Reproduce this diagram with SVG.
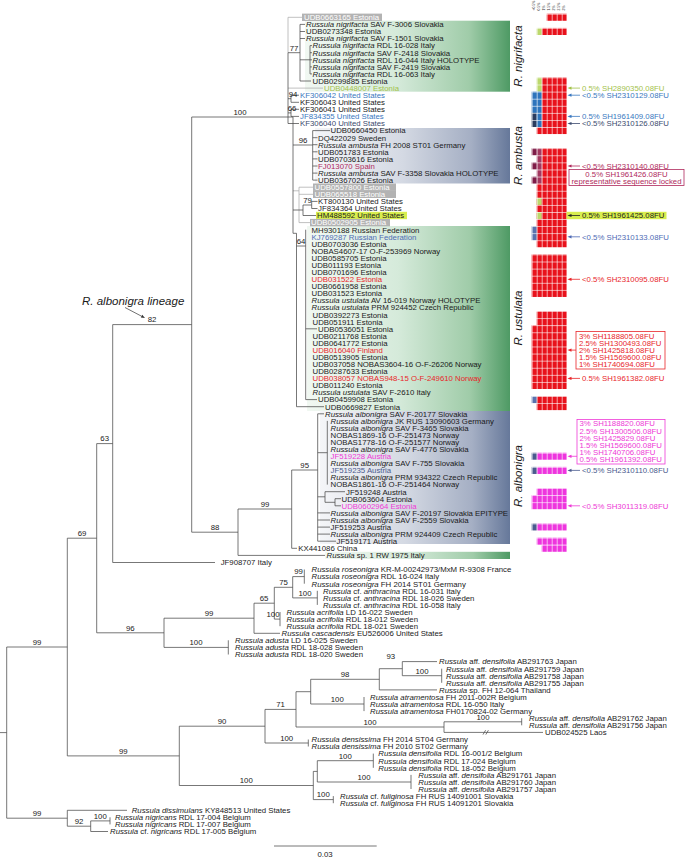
<svg xmlns="http://www.w3.org/2000/svg" width="685" height="858" viewBox="0 0 685 858">
<defs>
<linearGradient id="gg" x1="0" y1="0" x2="1" y2="0"><stop offset="0" stop-color="#f1f8f2"/><stop offset="0.45" stop-color="#d5eada"/><stop offset="0.8" stop-color="#a0cca9"/><stop offset="1" stop-color="#4e9a64"/></linearGradient>
<linearGradient id="gs" x1="0" y1="0" x2="1" y2="0"><stop offset="0" stop-color="#f4f5f8"/><stop offset="0.45" stop-color="#d4d9e3"/><stop offset="0.8" stop-color="#a5afc4"/><stop offset="1" stop-color="#66789a"/></linearGradient>
<pattern id="grid" patternUnits="userSpaceOnUse" x="531.7" y="13.76" width="5" height="7.08"><path d="M0 0.35H5M0.35 0V7.08" stroke="#fff" stroke-width="0.7" fill="none"/></pattern>
</defs>
<style>
text{font-family:"Liberation Sans",Arial,Helvetica,sans-serif;font-size:7.8px;fill:#1a1a1a}
.i{font-style:italic}
.bs{text-anchor:middle}
.w{fill:#fff}
.ln{fill:none;stroke:#4a4a4a;stroke-width:0.75}
.lg{fill:none;stroke:#ababab;stroke-width:0.75}
.gb{fill:#b3b3b3}
.cl{font-size:11.5px;font-style:italic;text-anchor:middle}
.hd{font-size:3.4px;fill:#333}
.cR{fill:#e8121c}.cM{fill:#ee35de}.cLG{fill:#bcd86c}.cBL{fill:#2e74bc}.cNV{fill:#2c3c5e}.cMR{fill:#7e1d48}.cMR2{fill:#a3375f}.cSL{fill:#5a72ae}.cSL2{fill:#4b5b8e}
.tLG{fill:#a3c24a}.tBL{fill:#3a78c0}.tNV{fill:#3b4a6e}.tMR{fill:#b02a5c}.tSL{fill:#4f6bb5}.tR{fill:#e8262a}.tM{fill:#ee3ad6}.tSL2{fill:#4a5a8e}
</style>
<rect width="685" height="858" fill="#fff"/>

<!-- clade shading -->
<g id="shading">
<rect x="305" y="20.7" width="205" height="71" fill="url(#gg)"/>
<rect x="315" y="128" width="195" height="55.5" fill="url(#gs)"/>
<rect x="307" y="226" width="203" height="185" fill="url(#gg)"/>
<rect x="320" y="411" width="190" height="133" fill="url(#gs)"/>
<rect x="325" y="551.8" width="185" height="7.2" fill="url(#gg)"/>
</g>

<!-- connectors -->
<g id="connectors">
<path class="lg" d="M288 17.3V52.7M288 17.3H303M293 190.8H299M299 187.2V222.6M299 187.2H313M299 194.3H313M299 222.6H310M288 88.1H323"/>
<path class="ln" d="M191.7 117H293M288 52.7V123.5M288 52.7H300M300 24.4V81M300 24.4H305M300 31.5H305M300 38.5H305M300 59.8H310M310 45.6V73.9M310 45.6H312M310 52.7H312M310 59.8H312M310 66.9H312M310 73.9H312M300 81H311
M288 98.7H291M291 95.2V102.3M291 95.2H299M291 102.3H299M288 112.9H291M291 109.3V116.4M291 109.3H299M291 116.4H299M288 123.5H299
M293 117V233.3M293 145H312.7M312.7 130.6V180.1M312.7 130.6H330M312.7 137.7H317.5M312.7 144.7H317.5M312.7 151.8H317.5M312.7 158.9H317.5M312.7 166H317.5M312.7 173.1H317.5M312.7 180.1H317.5
M293 210H303M303 205V215.5M303 205H311.7M311.7 201.4V208.5M311.7 201.4H317.5M311.7 208.5H317.5M303 215.5H316
M293 233.3H296.5M296.5 233.3V406.7M296.5 246H305.7M305.7 229.7V399.6M296.5 406.7H324M305.7 328.8H317M305.7 399.6H317
M191.7 117V532.2M112.7 324.6H191.7M191.7 532.2H238M238 509V555.4M238 555.4H325M238 509H291.7M291.7 470V548.3M291.7 548.3H297M291.7 470H317.7M317.7 413.8V541.2M317.7 413.8H324M317.7 452.7H327.3M327.3 420.9V484.6M317.7 496.8H325M325 491.7V502.3M325 491.7H345M325 502.3H335M335 498.7V505.8M335 498.7H341M335 505.8H341M317.7 512.9H330M317.7 520H330M317.7 527.1H330M317.7 534.1H330M317.7 541.2H336
M112.7 324.6V562.5M112.7 562.5H215M96.7 443.6H112.7M96.7 443.6V632.8M67.3 538.2H96.7
M96.7 632.8H164M164 618.2V647.4M164 618.2H254M164 647.4H228.3M228.3 640.3V654.5
M254 603.2V633.3M254 603.2H274.3M254 633.3H280M274.3 587.3V619.1M274.3 587.3H292.7M274.3 619.1H280M280 612V626.2M292.7 576.6V597.9M292.7 576.6H304.3M304.3 569.5V583.7M292.7 597.9H317.3M317.3 590.8V604.9
M6.7 647H67.3M67.3 538.2V755.9M67.3 755.9H179.3M179.3 726.2V785.5
M179.3 726.2H265M265 709.4V743M265 743H308.3M308.3 739.5V746.5
M265 709.4H296M296 691.7V727M296 691.7H310.7M310.7 679.3V704M310.7 704H364M364 697V711.1M310.7 679.3H379.3M379.3 668.7V689.9M379.3 689.9H437M379.3 668.7H402.3M402.3 661.6V675.7M402.3 661.6H437M402.3 675.7H441.7M441.7 668.7V682.8
M296 727H444M444 721.8V732.4M444 721.8H521.7M521.7 718.2V725.3M444 732.4H543M483 734.6L485.6 730.2M485.8 734.6L488.4 730.2
M179.3 785.5H313.3M313.3 771.4V799.6M313.3 771.4H317.3M317.3 760.7V782M317.3 760.7H373.3M373.3 753.6V767.8M317.3 782H411M411 774.9V789M313.3 799.6H333.3M333.3 796.1V803.2
M6.7 647V818.2M0 732.6H6.7M6.7 818.2H67.3M67.3 810.3V826.2M67.3 810.3H127M67.3 826.2H90.7M90.7 820.9V831.5M90.7 820.9H110M110 817.3V824.4M90.7 831.5H108"/>
<path d="M125 307.5L141.5 316.2" fill="none" stroke="#333" stroke-width="0.7"/>
<polygon points="145,318 140.8,317.5 142.2,314.8" fill="#333"/>
<path d="M274 846H376.7" stroke="#777" stroke-width="1"/>
</g>

<!-- bootstrap values -->
<g id="support">
<text class="bs" x="240" y="114.8">100</text>
<text class="bs" x="294" y="50.5">77</text>
<text class="bs" x="293" y="96.5">94</text>
<text class="bs" x="292" y="111">66</text>
<text class="bs" x="303" y="143">96</text>
<text class="bs" x="307.5" y="203">79</text>
<text class="bs" x="301" y="244">64</text>
<text class="bs" x="152" y="322.4">82</text>
<text class="bs" x="104.7" y="441.4">63</text>
<text class="bs" x="82" y="536">69</text>
<text class="bs" x="304.7" y="467.8">95</text>
<text class="bs" x="265" y="506.8">99</text>
<text class="bs" x="215" y="530">88</text>
<text class="bs" x="37" y="644.8">99</text>
<text class="bs" x="130.3" y="630.6">96</text>
<text class="bs" x="209" y="616">99</text>
<text class="bs" x="196" y="645.2">100</text>
<text class="bs" x="264" y="601">65</text>
<text class="bs" x="283.5" y="585.1">75</text>
<text class="bs" x="298.5" y="574.4">99</text>
<text class="bs" x="305" y="595.7">100</text>
<text x="279.5" y="616.5" text-anchor="end">100</text>
<text class="bs" x="123.3" y="753.7">99</text>
<text class="bs" x="222" y="724">90</text>
<text class="bs" x="280.5" y="707.2">71</text>
<text class="bs" x="345" y="677.1">98</text>
<text class="bs" x="390.8" y="659.4">93</text>
<text class="bs" x="422" y="673.5">100</text>
<text class="bs" x="337.3" y="701.8">100</text>
<text class="bs" x="370" y="724.8">100</text>
<text class="bs" x="483" y="719.6">100</text>
<text class="bs" x="286.7" y="740.8">100</text>
<text class="bs" x="246.3" y="783.3">100</text>
<text class="bs" x="345.3" y="758.5">100</text>
<text class="bs" x="364" y="779.8">100</text>
<text class="bs" x="323.3" y="797.4">100</text>
<text class="bs" x="37" y="816">99</text>
<text class="bs" x="79" y="824">92</text>
<text class="bs" x="100.3" y="818.7">100</text>
<text x="82" y="304.5" style="font-size:11.5px;font-style:italic">R. albonigra lineage</text>
<text x="325" y="856.5" text-anchor="middle">0.03</text>
</g>

<!-- terminal labels -->
<g id="clade-nigrifacta">
<rect class="gb" x="302" y="13.6" width="80" height="7.4"/>
<text class="w" x="304" y="20.1">UDB0663165 Estonia</text>
<text x="306" y="27.2"><tspan class="i">Russula nigrifacta</tspan> SAV F-3006 Slovakia</text>
<text x="306" y="34.3">UDB0273348 Estonia</text>
<text x="306" y="41.3"><tspan class="i">Russula nigrifacta</tspan> SAV F-1501 Slovakia</text>
<text x="312.5" y="48.4"><tspan class="i">Russula nigrifacta</tspan> RDL 16-028 Italy</text>
<text x="312.5" y="55.5"><tspan class="i">Russula nigrifacta</tspan> SAV F-2418 Slovakia</text>
<text x="312.5" y="62.6"><tspan class="i">Russula nigrifacta</tspan> RDL 16-044 Italy HOLOTYPE</text>
<text x="312.5" y="69.7"><tspan class="i">Russula nigrifacta</tspan> SAV F-2419 Slovakia</text>
<text x="312.5" y="76.7"><tspan class="i">Russula nigrifacta</tspan> RDL 16-063 Italy</text>
<text x="312.5" y="83.8">UDB0299885 Estonia</text>
<text class="tLG" x="324" y="90.9">UDB0448007 Estonia</text>
<text class="tBL" x="300" y="98">KF306042 United States</text>
<text x="300" y="105.1">KF306043 United States</text>
<text x="300" y="112.1">KF306041 United States</text>
<text class="tBL" x="300" y="119.2">JF834355 United States</text>
<text class="tNV" x="300" y="126.3">KF306040 United States</text>
</g>
<g id="clade-ambusta">
<text x="330.5" y="133.4">UDB0660450 Estonia</text>
<text x="318" y="140.5">DQ422029 Sweden</text>
<text x="318" y="147.5"><tspan class="i">Russula ambusta</tspan> FH 2008 ST01 Germany</text>
<text x="318" y="154.6">UDB051783 Estonia</text>
<text x="318" y="161.7">UDB0703616 Estonia</text>
<text class="tMR" x="318" y="168.8">FJ013070 Spain</text>
<text x="318" y="175.9"><tspan class="i">Russula ambusta</tspan> SAV F-3358 Slovakia HOLOTYPE</text>
<text x="318" y="182.9">UDB0367026 Estonia</text>
</g>
<g id="misc-upper">
<rect class="gb" x="313" y="183.5" width="83" height="7.4"/>
<rect class="gb" x="313" y="190.6" width="83" height="7.4"/>
<text class="w" x="314.5" y="190">UDB0557800 Estonia</text>
<text class="w" x="314.5" y="197.1">UDB065518 Estonia</text>
<text x="318" y="204.2">KT800130 United States</text>
<text x="318" y="211.3">JF834364 United States</text>
<rect x="316" y="211.8" width="91" height="7.4" fill="#d8ee4e"/>
<text x="317" y="218.3">HM488592 United States</text>
<rect class="gb" x="310" y="218.9" width="80" height="7.4"/>
<text class="w" x="311" y="225.4">UDB0502905 Estonia</text>
</g>
<g id="clade-ustulata">
<text x="311.5" y="232.5">MH930188 Russian Federation</text>
<text class="tSL" x="311.5" y="239.6">KJ769287 Russian Federation</text>
<text x="311.5" y="246.7">UDB0703036 Estonia</text>
<text x="311.5" y="253.7">NOBAS4607-17 O-F-253969 Norway</text>
<text x="311.5" y="260.8">UDB0585705 Estonia</text>
<text x="311.5" y="267.9">UDB011193 Estonia</text>
<text x="311.5" y="275">UDB0701696 Estonia</text>
<text class="tR" x="311.5" y="282.1">UDB031522 Estonia</text>
<text x="311.5" y="289.1">UDB0661958 Estonia</text>
<text x="311.5" y="296.2">UDB031523 Estonia</text>
<text x="311.5" y="303.3"><tspan class="i">Russula ustulata</tspan> AV 16-019 Norway HOLOTYPE</text>
<text x="311.5" y="310.4"><tspan class="i">Russula ustulata</tspan> PRM 924452 Czech Republic</text>
<text x="312.5" y="317.5">UDB0392273 Estonia</text>
<text x="312.5" y="324.5">UDB051911 Estonia</text>
<text x="318" y="331.6">UDB0536051 Estonia</text>
<text x="312.5" y="338.7">UDB0211768 Estonia</text>
<text x="312.5" y="345.8">UDB0641772 Estonia</text>
<text class="tR" x="312.5" y="352.9">UDB016040 Finland</text>
<text x="312.5" y="359.9">UDB0513905 Estonia</text>
<text x="312.5" y="367">UDB037058 NOBAS3604-16 O-F-26206 Norway</text>
<text x="312.5" y="374.1">UDB0287633 Estonia</text>
<text class="tR" x="312.5" y="381.2">UDB038057 NOBAS948-15 O-F-249610 Norway</text>
<text x="312.5" y="388.3">UDB011240 Estonia</text>
<text x="312.5" y="395.3"><tspan class="i">Russula ustulata</tspan> SAV F-2610 Italy</text>
<text x="318" y="402.4">UDB0459908 Estonia</text>
<text x="325" y="409.5">UDB0669827 Estonia</text>
</g>
<g id="clade-albonigra">
<text x="325" y="416.6"><tspan class="i">Russula albonigra</tspan> SAV F-20177 Slovakia</text>
<text x="330.5" y="423.7"><tspan class="i">Russula albonigra</tspan> JK RUS 13090603 Germany</text>
<text x="330.5" y="430.7"><tspan class="i">Russula albonigra</tspan> SAV F-3465 Slovakia</text>
<text x="330.5" y="437.8">NOBAS1869-16 O-F-251473 Norway</text>
<text x="330.5" y="444.9">NOBAS1778-16 O-F-251577 Norway</text>
<text x="330.5" y="452"><tspan class="i">Russula albonigra</tspan> SAV F-4776 Slovakia</text>
<text class="tM" x="330.5" y="459.1">JF519228 Austria</text>
<text x="330.5" y="466.1"><tspan class="i">Russula albonigra</tspan> SAV F-755 Slovakia</text>
<text class="tSL2" x="330.5" y="473.2">JF519235 Austria</text>
<text x="330.5" y="480.3"><tspan class="i">Russula albonigra</tspan> PRM 934322 Czech Republic</text>
<text x="330.5" y="487.4">NOBAS1861-16 O-F-251464 Norway</text>
<text x="346" y="494.5">JF519248 Austria</text>
<text x="341.5" y="501.5">UDB063604 Estonia</text>
<text class="tM" x="341.5" y="508.6">UDB0602964 Estonia</text>
<text x="330.5" y="515.7"><tspan class="i">Russula albonigra</tspan> SAV F-20197 Slovakia EPITYPE</text>
<text x="330.5" y="522.8"><tspan class="i">Russula albonigra</tspan> SAV F-2559 Slovakia</text>
<text x="330.5" y="529.9">JF519253 Austria</text>
<text x="330.5" y="536.9"><tspan class="i">Russula albonigra</tspan> PRM 924409 Czech Republic</text>
<text x="336.5" y="544">JF519171 Austria</text>
<text x="298.3" y="551.1">KX441086 China</text>
<text x="326.5" y="558.2"><tspan class="i">Russula</tspan> sp. 1 RW 1975 Italy</text>
<text x="220.7" y="565.3">JF908707 Italy</text>
</g>
<g id="outgroups">
<text x="311.5" y="572.3"><tspan class="i">Russula roseonigra</tspan> KR-M-00242973/MxM R-9308 France</text>
<text x="311.5" y="579.4"><tspan class="i">Russula roseonigra</tspan> RDL 16-024 Italy</text>
<text x="311.5" y="586.5"><tspan class="i">Russula roseonigra</tspan> FH 2014 ST01 Germany</text>
<text x="323" y="593.6"><tspan class="i">Russula</tspan> cf. <tspan class="i">anthracina</tspan> RDL 16-031 Italy</text>
<text x="323" y="600.7"><tspan class="i">Russula</tspan> cf. <tspan class="i">anthracina</tspan> RDL 18-026 Sweden</text>
<text x="323" y="607.7"><tspan class="i">Russula</tspan> cf. <tspan class="i">anthracina</tspan> RDL 16-058 Italy</text>
<text x="286.5" y="614.8"><tspan class="i">Russula acrifolia</tspan> LD 16-022 Sweden</text>
<text x="286.5" y="621.9"><tspan class="i">Russula acrifolia</tspan> RDL 18-012 Sweden</text>
<text x="286.5" y="629"><tspan class="i">Russula acrifolia</tspan> RDL 18-021 Sweden</text>
<text x="281.5" y="636.1"><tspan class="i">Russula cascadensis</tspan> EU526006 United States</text>
<text x="235" y="643.1"><tspan class="i">Russula adusta</tspan> LD 16-025 Sweden</text>
<text x="235" y="650.2"><tspan class="i">Russula adusta</tspan> RDL 18-028 Sweden</text>
<text x="235" y="657.3"><tspan class="i">Russula adusta</tspan> RDL 18-020 Sweden</text>
<text x="439" y="664.4"><tspan class="i">Russula</tspan> aff. <tspan class="i">densifolia</tspan> AB291763 Japan</text>
<text x="446" y="671.5"><tspan class="i">Russula</tspan> aff. <tspan class="i">densifolia</tspan> AB291759 Japan</text>
<text x="446" y="678.5"><tspan class="i">Russula</tspan> aff. <tspan class="i">densifolia</tspan> AB291758 Japan</text>
<text x="446" y="685.6"><tspan class="i">Russula</tspan> aff. <tspan class="i">densifolia</tspan> AB291755 Japan</text>
<text x="439" y="692.7"><tspan class="i">Russula</tspan> sp. FH 12-064 Thailand</text>
<text x="370" y="699.8"><tspan class="i">Russula atramentosa</tspan> FH 2011-002R Belgium</text>
<text x="370" y="706.9"><tspan class="i">Russula atramentosa</tspan> RDL 16-050 Italy</text>
<text x="370" y="713.9"><tspan class="i">Russula atramentosa</tspan> FH0170824-02 Germany</text>
<text x="529" y="721"><tspan class="i">Russula</tspan> aff. <tspan class="i">densifolia</tspan> AB291762 Japan</text>
<text x="529" y="728.1"><tspan class="i">Russula</tspan> aff. <tspan class="i">densifolia</tspan> AB291756 Japan</text>
<text x="545" y="735.2">UDB024525 Laos</text>
<text x="311.5" y="742.3"><tspan class="i">Russula densissima</tspan> FH 2014 ST04 Germany</text>
<text x="311.5" y="749.3"><tspan class="i">Russula densissima</tspan> FH 2010 ST02 Germany</text>
<text x="378.3" y="756.4"><tspan class="i">Russula densifolia</tspan> RDL 16-001/2 Belgium</text>
<text x="378.3" y="763.5"><tspan class="i">Russula densifolia</tspan> RDL 17-024 Belgium</text>
<text x="378.3" y="770.6"><tspan class="i">Russula densifolia</tspan> RDL 18-052 Belgium</text>
<text x="418.3" y="777.7"><tspan class="i">Russula</tspan> aff. <tspan class="i">densifolia</tspan> AB291761 Japan</text>
<text x="418.3" y="784.7"><tspan class="i">Russula</tspan> aff. <tspan class="i">densifolia</tspan> AB291760 Japan</text>
<text x="418.3" y="791.8"><tspan class="i">Russula</tspan> aff. <tspan class="i">densifolia</tspan> AB291757 Japan</text>
<text x="340" y="798.9"><tspan class="i">Russula</tspan> cf. <tspan class="i">fuliginosa</tspan> FH RUS 14091001 Slovakia</text>
<text x="340" y="806"><tspan class="i">Russula</tspan> cf. <tspan class="i">fuliginosa</tspan> FH RUS 14091201 Slovakia</text>
<text x="131.7" y="813.1"><tspan class="i">Russula dissimulans</tspan> KY848513 United States</text>
<text x="115" y="820.1"><tspan class="i">Russula nigricans</tspan> RDL 17-004 Belgium</text>
<text x="115" y="827.2"><tspan class="i">Russula nigricans</tspan> RDL 17-007 Belgium</text>
<text x="110" y="834.3"><tspan class="i">Russula</tspan> cf. <tspan class="i">nigricans</tspan> RDL 17-005 Belgium</text>
</g>

<!-- clade names -->
<g id="clade-names">
<text class="cl" transform="translate(521.5 56) rotate(-90)">R. nigrifacta</text>
<text class="cl" transform="translate(521.5 155.5) rotate(-90)">R. ambusta</text>
<text class="cl" transform="translate(521.5 318) rotate(-90)">R. ustulata</text>
<text class="cl" transform="translate(521.5 476) rotate(-90)">R. albonigra</text>
</g>

<!-- column header -->
<g id="sh-header">
<text class="hd" transform="translate(535.4 10.5) rotate(-90)">&lt;0.5%</text>
<text class="hd" transform="translate(540.4 10.5) rotate(-90)">0.5%</text>
<text class="hd" transform="translate(545.4 10.5) rotate(-90)">1%</text>
<text class="hd" transform="translate(550.4 10.5) rotate(-90)">1.5%</text>
<text class="hd" transform="translate(555.4 10.5) rotate(-90)">2%</text>
<text class="hd" transform="translate(560.4 10.5) rotate(-90)">2.5%</text>
<text class="hd" transform="translate(565.4 10.5) rotate(-90)">3%</text>
</g>

<!-- SH assignment cells -->
<g id="sh-cells">
<rect class="cR" x="546.7" y="13.76" width="20" height="7.08"/>
<rect class="cR" x="541.7" y="27.92" width="25" height="7.08"/>
<rect class="cLG" x="536.7" y="27.92" width="5" height="7.08"/>
<rect class="cR" x="541.7" y="77.48" width="25" height="56.64"/>
<rect class="cLG" x="536.7" y="77.48" width="5" height="14.16"/>
<rect class="cBL" x="531.7" y="91.64" width="10" height="21.24"/>
<rect class="cNV" x="531.7" y="112.88" width="5" height="14.16"/>
<rect class="cBL" x="536.7" y="112.88" width="5" height="14.16"/>
<rect class="cR" x="536.7" y="127.04" width="5" height="7.08"/>
<rect class="cR" x="541.7" y="148.28" width="25" height="49.56"/>
<rect class="cMR2" x="536.7" y="148.28" width="5" height="35.4"/>
<rect class="cMR" x="531.7" y="148.28" width="5" height="7.08"/>
<rect class="cMR" x="531.7" y="162.44" width="5" height="7.08"/>
<rect class="cMR" x="531.7" y="176.6" width="5" height="7.08"/>
<rect class="cR" x="536.7" y="183.68" width="5" height="14.16"/>
<rect class="cR" x="536.7" y="197.84" width="30" height="49.56"/>
<rect class="cLG" x="536.7" y="197.84" width="5" height="7.08"/>
<rect class="cLG" x="536.7" y="212" width="5" height="7.08"/>
<rect class="cSL" x="531.7" y="226.16" width="5" height="14.16"/>
<rect class="cR" x="531.7" y="254.48" width="35" height="42.48"/>
<rect class="cR" x="536.7" y="311.12" width="30" height="14.16"/>
<rect class="cR" x="531.7" y="325.28" width="35" height="63.72"/>
<rect class="cR" x="536.7" y="396.08" width="30" height="14.16"/>
<rect class="cSL" x="531.7" y="396.08" width="5" height="7.08"/>
<rect class="cM" x="536.7" y="452.72" width="30" height="7.08"/>
<rect class="cSL2" x="531.7" y="452.72" width="5" height="7.08"/>
<rect class="cM" x="536.7" y="466.88" width="30" height="7.08"/>
<rect class="cSL2" x="531.7" y="466.88" width="5" height="7.08"/>
<rect class="cM" x="536.7" y="488.12" width="30" height="7.08"/>
<rect class="cM" x="531.7" y="495.2" width="35" height="14.16"/>
<rect class="cM" x="536.7" y="523.52" width="30" height="7.08"/>
<rect class="cSL2" x="531.7" y="523.52" width="5" height="7.08"/>
<rect class="cM" x="536.7" y="537.68" width="30" height="7.08"/>
<rect class="cM" x="541.7" y="544.76" width="25" height="7.08"/>
<rect x="531.7" y="13.76" width="35.6" height="538.5" fill="url(#grid)"/>
</g>

<!-- SH annotations -->
<g id="sh-notes">
<g fill="#a3c24a" stroke="#a3c24a"><path d="M570 88.1H580" stroke-width="0.8"/><polygon points="567.5,88.1 571.5,86.5 571.5,89.7" stroke="none"/></g>
<text class="tLG" x="582" y="90.9">0.5% SH2890350.08FU</text>
<g fill="#3a78c0" stroke="#3a78c0"><path d="M570 95.2H580" stroke-width="0.8"/><polygon points="567.5,95.2 571.5,93.6 571.5,96.8" stroke="none"/></g>
<text class="tBL" x="582" y="98">&lt;0.5% SH2310129.08FU</text>
<g fill="#3a78c0" stroke="#3a78c0"><path d="M570 116.4H580" stroke-width="0.8"/><polygon points="567.5,116.4 571.5,114.8 571.5,118" stroke="none"/></g>
<text class="tBL" x="582" y="119.2">0.5% SH1961409.08FU</text>
<g fill="#3b4a6e" stroke="#3b4a6e"><path d="M570 123.5H580" stroke-width="0.8"/><polygon points="567.5,123.5 571.5,121.9 571.5,125.1" stroke="none"/></g>
<text class="tNV" x="582" y="126.3">&lt;0.5% SH2310126.08FU</text>
<g fill="#b02a5c" stroke="#b02a5c"><path d="M570 166H580" stroke-width="0.8"/><polygon points="567.5,166 571.5,164.4 571.5,167.6" stroke="none"/></g>
<text class="tMR" x="582" y="168.8">&lt;0.5% SH2310140.08FU</text>
<rect x="569" y="169.5" width="115" height="16" fill="none" stroke="#b02a5c" stroke-width="0.8"/>
<text class="tMR" x="626.5" y="176.6" text-anchor="middle">0.5% SH1961426.08FU</text>
<text class="tMR" x="626.5" y="183.5" text-anchor="middle">representative sequence locked</text>
<rect x="566.5" y="211.8" width="100" height="7.4" fill="#d8ee4e"/>
<g fill="#222" stroke="#222"><path d="M570 215.5H580" stroke-width="0.8"/><polygon points="567.5,215.5 571.5,213.9 571.5,217.1" stroke="none"/></g>
<text x="582" y="218.3">0.5% SH1961425.08FU</text>
<g fill="#4f6bb5" stroke="#4f6bb5"><path d="M570 236.8H580" stroke-width="0.8"/><polygon points="567.5,236.8 571.5,235.2 571.5,238.4" stroke="none"/></g>
<text class="tSL" x="582" y="239.6">&lt;0.5% SH2310133.08FU</text>
<g fill="#e8262a" stroke="#e8262a"><path d="M570 279.3H580" stroke-width="0.8"/><polygon points="567.5,279.3 571.5,277.7 571.5,280.9" stroke="none"/></g>
<text class="tR" x="582" y="282.1">&lt;0.5% SH2310095.08FU</text>
<rect x="576" y="331.5" width="89" height="37.5" fill="none" stroke="#e8262a" stroke-width="0.8"/>
<g fill="#e8262a" stroke="#e8262a"><path d="M570 350.1H576" stroke-width="0.8"/><polygon points="567.5,350.1 571.5,348.5 571.5,351.7" stroke="none"/></g>
<text class="tR" x="579" y="338.7">3% SH1188805.08FU</text>
<text class="tR" x="579" y="345.8">2.5% SH1300493.08FU</text>
<text class="tR" x="579" y="352.9">2% SH1425818.08FU</text>
<text class="tR" x="579" y="359.9">1.5% SH1569600.08FU</text>
<text class="tR" x="579" y="367">1% SH1740694.08FU</text>
<g fill="#e8262a" stroke="#e8262a"><path d="M570 378.4H580" stroke-width="0.8"/><polygon points="567.5,378.4 571.5,376.8 571.5,380" stroke="none"/></g>
<text class="tR" x="582" y="381.2">0.5% SH1961382.08FU</text>
<rect x="577" y="419.5" width="88" height="44.5" fill="none" stroke="#ee3ad6" stroke-width="0.8"/>
<text class="tM" x="579.5" y="426.4">3% SH1188820.08FU</text>
<text class="tM" x="579.5" y="433.5">2.5% SH1300506.08FU</text>
<text class="tM" x="579.5" y="440.6">2% SH1425829.08FU</text>
<text class="tM" x="579.5" y="447.7">1.5% SH1569600.08FU</text>
<text class="tM" x="579.5" y="454.7">1% SH1740706.08FU</text>
<text class="tM" x="579.5" y="461.8">0.5% SH1961392.08FU</text>
<g fill="#ee3ad6" stroke="#ee3ad6"><path d="M570 456.3H577" stroke-width="0.8"/><polygon points="567.5,456.3 571.5,454.7 571.5,457.9" stroke="none"/></g>
<g fill="#4a5a8e" stroke="#4a5a8e"><path d="M570 470.4H580" stroke-width="0.8"/><polygon points="567.5,470.4 571.5,468.8 571.5,472" stroke="none"/></g>
<text class="tSL2" x="582" y="473.2">&lt;0.5% SH2310110.08FU</text>
<g fill="#ee3ad6" stroke="#ee3ad6"><path d="M570 505.8H580" stroke-width="0.8"/><polygon points="567.5,505.8 571.5,504.2 571.5,507.4" stroke="none"/></g>
<text class="tM" x="582" y="508.6">&lt;0.5% SH3011319.08FU</text>
</g>
</svg>
